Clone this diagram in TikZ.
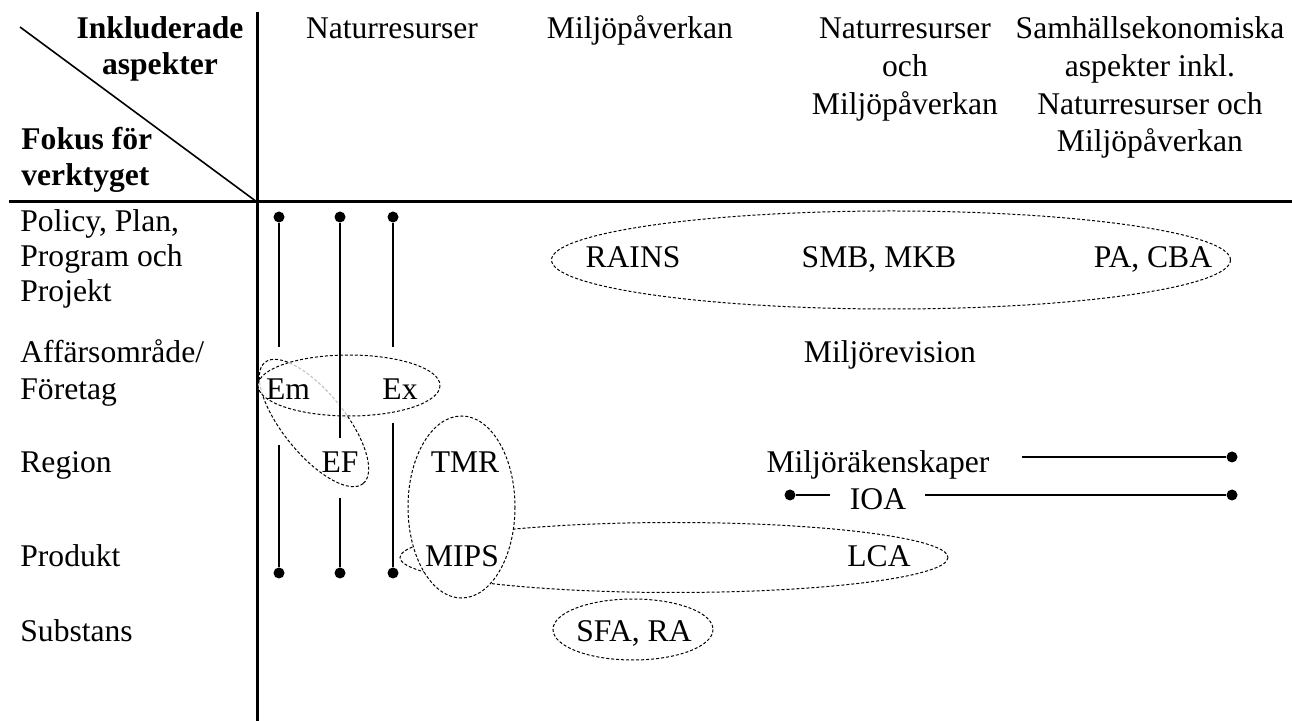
\documentclass[tikz,border=0pt]{standalone}
\usepackage{fontspec}
\setmainfont{Liberation Serif}
\newcommand\diafs{\fontsize{15.8}{18.85}\selectfont}
\newcommand\cornerfs{\fontsize{15.8}{18}\selectfont\bfseries}
\newcommand\rowfsa{\fontsize{15.8}{17.5}\selectfont}
\newcommand\rowfsb{\fontsize{15.8}{18.5}\selectfont}
\begin{document}
\begin{tikzpicture}[x=0.5pt,y=-0.5pt,
  axis/.style={line width=1.5pt},
  tool/.style={line width=1pt},
  dot/.style={circle, fill=black, inner sep=0pt, minimum size=5.5pt},
  grp/.style={line width=0.5pt, dash pattern=on 1.5pt off 1pt},
  txt/.style={inner sep=0pt, anchor=base, font=\diafs}]
\useasboundingbox (0,0) rectangle (1292,721);
% axes
\coordinate (hl) at (9,202); \coordinate (hr) at (1292,202);
\coordinate (vt) at (257,12); \coordinate (vb) at (257,721);
\coordinate (dg) at (20,27); \coordinate (corner) at (257,202);
\draw[axis] (hl) -- (hr);
\draw[axis] (vt) -- (vb);
\draw[line width=0.8pt] (dg) -- (corner);
% group ellipses
\draw[grp] (891,260) ellipse [x radius=339.5, y radius=49];
\draw[grp] (674,557.5) ellipse [x radius=274, y radius=35];
\draw[grp, fill=white] (461.5,507) ellipse [x radius=53.5, y radius=91];
\draw[grp] (633,629.5) ellipse [x radius=80, y radius=30.5];
\draw[grp, rotate around={-51:(314,423)}] (314,423) ellipse [x radius=78, y radius=31];
\draw[grp, fill=white, fill opacity=0.75] (349,385.5) ellipse [x radius=91, y radius=30.5];
% tool lines with dots
\node[dot] (t1) at (279,217) {};
\node[dot] (t2) at (340,217) {};
\node[dot] (t3) at (393,217) {};
\node[dot] (b1) at (279,573) {};
\node[dot] (b2) at (340,573) {};
\node[dot] (b3) at (393,573) {};
\coordinate (a1) at (279,347); \coordinate (a2) at (279,445);
\coordinate (c1) at (340,438); \coordinate (c2) at (340,498);
\coordinate (e1) at (393,347); \coordinate (e2) at (393,423);
\draw[tool] (t1) -- (a1); \draw[tool] (a2) -- (b1);
\draw[tool] (t2) -- (c1); \draw[tool] (c2) -- (b2);
\draw[tool] (t3) -- (e1); \draw[tool] (e2) -- (b3);
\coordinate (m1) at (1022,457); \node[dot] (m2) at (1232,457) {};
\draw[tool] (m1) -- (m2);
\node[dot] (i0) at (790,495) {}; \coordinate (i1) at (830,495);
\coordinate (i2) at (925,495); \node[dot] (i3) at (1232,495) {};
\draw[tool] (i0) -- (i1); \draw[tool] (i2) -- (i3);
% corner headings (anchor base = last line)
\node[txt, font=\cornerfs, align=center] (inkl) at (160,75) {Inkluderade\\aspekter};
\node[txt, anchor=base west, font=\cornerfs, align=left] (fokus) at (21,186) {Fokus för\\verktyget};
% column headings
\node[txt] (h1) at (392,39) {Naturresurser};
\node[txt] (h2) at (640,39) {Miljöpåverkan};
\node[txt, align=center] (h3) at (905,114.4) {Naturresurser\\och\\Miljöpåverkan};
\node[txt, align=center] (h4) at (1150,152) {Samhällsekonomiska\\aspekter inkl.\\Naturresurser och\\Miljöpåverkan};
% row headings
\node[txt, anchor=base west, align=left, font=\rowfsa] (r1) at (20,302) {Policy, Plan,\\Program och\\Projekt};
\node[txt, anchor=base west, align=left, font=\rowfsb] (r2) at (20,400) {Affärsområde/\\Företag};
\node[txt, anchor=base west] (r3) at (20,473) {Region};
\node[txt, anchor=base west] (r4) at (20,567) {Produkt};
\node[txt, anchor=base west] (r5) at (20,642) {Substans};
% entries
\node[txt] (rains) at (633,268) {RAINS};
\node[txt] (smb) at (879,268) {SMB, MKB};
\node[txt] (pa) at (1153,268) {PA, CBA};
\node[txt] (mrev) at (890,363) {Miljörevision};
\node[txt] (em) at (288,400) {Em};
\node[txt] (ex) at (400,400) {Ex};
\node[txt] (ef) at (340,473) {EF};
\node[txt] (tmr) at (465,473) {TMR};
\node[txt] (mips) at (462,567) {MIPS};
\node[txt] (mrak) at (878,473) {Miljöräkenskaper};
\node[txt] (ioa) at (878,510) {IOA};
\node[txt] (lca) at (879,567) {LCA};
\node[txt] (sfa) at (634,642) {SFA, RA};
\end{tikzpicture}
\end{document}
